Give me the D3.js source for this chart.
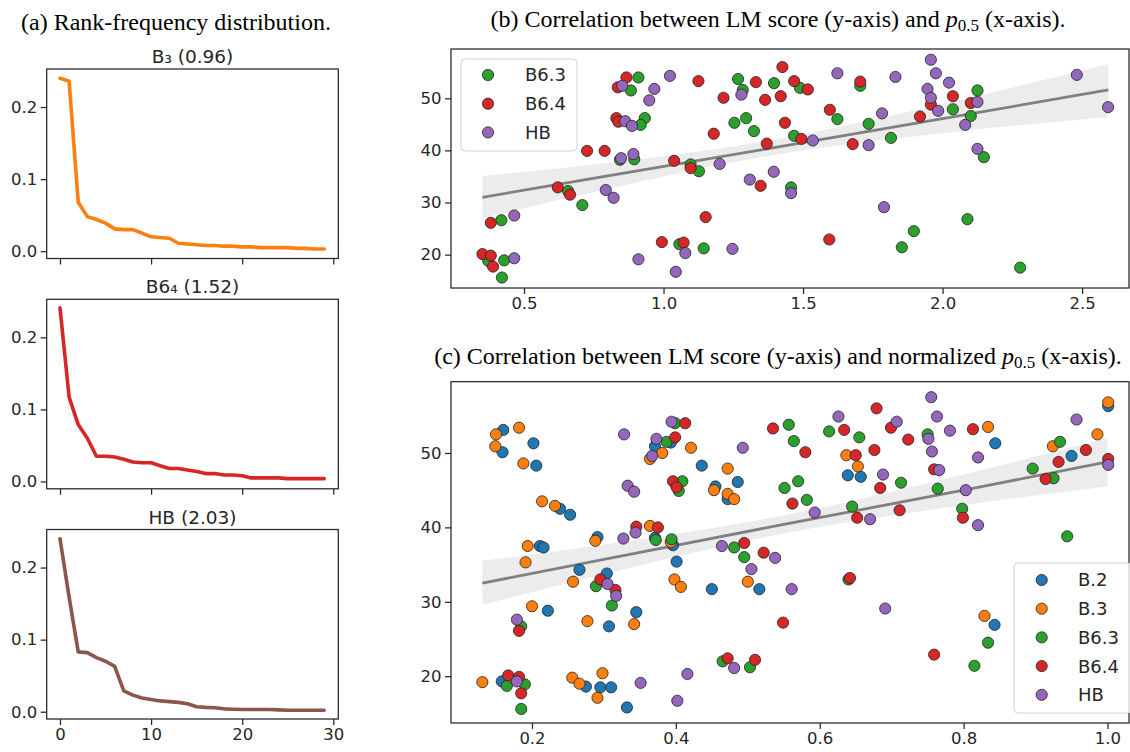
<!DOCTYPE html>
<html><head><meta charset="utf-8">
<script src="https://cdn.jsdelivr.net/npm/d3@7"></script>
<style>body{margin:0;background:#fff}</style>
</head><body>
<svg id="c" width="1130" height="752" xmlns="http://www.w3.org/2000/svg"></svg>
<script>
// ---------- DATA ----------
const ranks = [0,1,2,3,4,5,6,7,8,9,10,11,12,13,14,15,16,17,18,19,20,21,22,23,24,25,26,27,28,29];
const freqB3  = [0.240,0.236,0.068,0.048,0.044,0.039,0.031,0.030,0.030,0.025,0.020,0.019,0.018,0.011,0.010,0.009,0.008,0.008,0.007,0.007,0.006,0.006,0.005,0.005,0.005,0.005,0.004,0.004,0.003,0.003];
const freqB64 = [0.241,0.117,0.079,0.060,0.035,0.035,0.034,0.031,0.027,0.026,0.026,0.022,0.018,0.018,0.016,0.014,0.011,0.011,0.009,0.009,0.008,0.005,0.005,0.005,0.005,0.004,0.004,0.004,0.004,0.004];
const freqHB  = [0.240,0.159,0.083,0.082,0.075,0.070,0.063,0.029,0.023,0.019,0.017,0.015,0.014,0.013,0.011,0.007,0.006,0.0055,0.004,0.0035,0.003,0.003,0.003,0.003,0.0025,0.002,0.002,0.002,0.002,0.002];
const rankTitles = ["B\u2083 (0.96)", "B6\u2084 (1.52)", "HB (2.03)"];
const rankTicksX = [0,10,20,30];
const rankTicksY = [0.0,0.1,0.2];

// (b) LM score vs p0.5
const bB63 = [[0.372,18.8],[0.429,18.9],[0.421,15.6],[0.419,26.6],[0.658,32.2],[0.709,29.5],[0.844,38.2],[0.895,38.3],[0.883,51.5],[0.910,54.0],[0.933,46.2],[0.918,44.9],[1.057,22.0],[1.097,37.3],[1.127,36.0],[1.144,21.2],[1.267,53.7],[1.284,51.6],[1.254,45.3],[1.296,46.2],[1.324,43.7],[1.396,52.9],[1.468,42.8],[1.489,52.0],[1.457,32.9],[1.623,46.0],[1.735,45.1],[1.705,52.4],[1.815,42.4],[1.854,21.4],[1.897,24.5],[2.037,47.9],[2.125,51.5],[2.101,46.6],[2.148,38.7],[2.089,26.8],[2.278,17.5]];
const bB64 = [[0.351,20.1],[0.381,19.8],[0.389,17.7],[0.381,26.1],[0.621,32.9],[0.665,31.5],[0.726,39.9],[0.789,39.9],[0.831,46.2],[0.838,45.5],[0.836,52.1],[0.867,54.0],[1.038,38.0],[1.097,36.6],[0.994,22.4],[1.072,22.3],[1.151,27.2],[1.125,53.3],[1.180,43.2],[1.215,50.1],[1.331,53.1],[1.364,49.7],[1.348,33.2],[1.370,41.3],[1.426,56.0],[1.420,50.4],[1.435,45.3],[1.494,42.2],[1.468,53.3],[1.517,51.7],[1.596,47.8],[1.594,22.9],[1.678,41.2],[1.705,53.2],[1.919,46.5],[1.958,48.8],[2.037,50.4],[2.101,49.1]];
const bHB = [[0.465,27.5],[0.465,19.3],[0.852,52.4],[0.967,51.8],[0.949,49.6],[0.863,45.6],[0.887,44.7],[0.848,38.5],[0.892,39.3],[0.793,32.4],[0.821,30.9],[1.023,54.3],[0.910,19.1],[1.044,16.7],[1.078,20.3],[1.201,37.4],[1.247,21.1],[1.309,34.4],[1.279,50.7],[1.395,35.9],[1.535,41.9],[1.457,31.8],[1.623,54.8],[1.735,41.0],[1.783,47.1],[1.831,54.1],[1.790,29.1],[1.958,57.4],[1.976,54.8],[1.946,51.8],[1.958,50.1],[1.984,47.6],[2.023,53.0],[2.125,49.3],[2.081,44.9],[2.125,40.3],[2.481,54.5],[2.593,48.3]];
const bFitX  = [0.351, 0.8, 1.37, 2.0, 2.594];
const bFitY  = [31.0, 35.1, 40.3, 46.1, 51.6];
const bFitLo = [27.0, 32.6, 38.9, 43.3, 46.4];
const bFitHi = [35.1, 37.6, 41.8, 48.9, 56.6];
const bTicksX = [0.5,1.0,1.5,2.0,2.5];
const bTicksY = [20,30,40,50];
const bSeries = ["B6.3","B6.4","HB"];

// (c) LM score vs normalized p0.5
const cB2 = [[0.160,53.1],[0.159,50.1],[0.202,51.3],[0.206,48.3],[0.239,42.5],[0.253,41.7],[0.211,37.5],[0.216,37.3],[0.222,28.8],[0.266,34.3],[0.291,38.7],[0.304,33.8],[0.307,26.7],[0.345,28.6],[0.158,19.3],[0.275,18.6],[0.295,18.5],[0.310,18.5],[0.332,15.8],[0.371,50.9],[0.393,51.4],[0.371,38.6],[0.396,37.6],[0.401,35.4],[0.436,48.3],[0.455,45.5],[0.472,43.8],[0.486,46.1],[0.450,31.7],[0.516,31.7],[0.639,47.0],[0.657,46.8],[0.844,51.3],[0.950,49.6],[1.001,56.3],[0.843,26.9]];
const cB3 = [[0.150,52.5],[0.149,50.9],[0.182,53.4],[0.188,48.6],[0.214,43.5],[0.232,42.9],[0.194,37.5],[0.191,35.3],[0.200,29.4],[0.131,19.2],[0.256,19.8],[0.266,19.0],[0.257,32.7],[0.277,27.4],[0.288,38.2],[0.291,17.1],[0.298,20.4],[0.342,27.0],[0.364,40.2],[0.364,49.2],[0.381,50.0],[0.393,38.0],[0.398,33.0],[0.407,32.0],[0.421,50.7],[0.453,45.0],[0.472,47.9],[0.472,44.5],[0.481,43.8],[0.500,32.7],[0.637,49.7],[0.653,48.2],[0.834,53.5],[0.924,50.9],[0.986,52.5],[1.001,56.8],[0.829,28.1]];
const cB63 = [[0.165,18.7],[0.190,18.9],[0.185,15.6],[0.185,26.7],[0.289,32.1],[0.311,29.5],[0.372,38.3],[0.394,38.4],[0.387,51.5],[0.399,54.0],[0.409,46.2],[0.404,44.9],[0.465,22.0],[0.481,37.3],[0.495,36.0],[0.503,21.2],[0.551,45.3],[0.570,46.2],[0.582,43.7],[0.564,51.6],[0.557,53.8],[0.613,52.9],[0.655,52.1],[0.645,42.8],[0.640,33.0],[0.713,46.0],[0.750,52.5],[0.764,45.2],[0.798,42.5],[0.815,21.4],[0.834,24.5],[0.896,47.9],[0.925,46.6],[0.934,51.5],[0.944,38.8]];
const cB64 = [[0.167,20.1],[0.182,19.9],[0.185,17.7],[0.182,26.1],[0.295,33.0],[0.316,31.6],[0.345,40.1],[0.375,40.0],[0.396,46.2],[0.401,45.4],[0.399,52.1],[0.413,54.0],[0.472,22.4],[0.495,37.9],[0.510,22.2],[0.522,36.6],[0.535,53.3],[0.580,50.1],[0.562,43.2],[0.549,27.2],[0.634,53.1],[0.650,49.7],[0.676,50.4],[0.679,56.0],[0.684,45.3],[0.699,53.4],[0.723,51.8],[0.652,41.3],[0.711,42.3],[0.642,33.2],[0.759,47.8],[0.799,41.3],[0.813,53.2],[0.759,22.9],[0.914,46.5],[0.932,48.8],[0.970,50.4],[1.001,49.2]];
const cHB = [[0.179,27.6],[0.179,19.3],[0.328,52.5],[0.333,45.6],[0.342,44.8],[0.327,38.5],[0.344,39.3],[0.305,32.4],[0.317,30.8],[0.351,19.1],[0.373,51.9],[0.367,49.6],[0.394,54.2],[0.402,16.7],[0.416,20.3],[0.464,37.5],[0.481,21.1],[0.493,50.7],[0.505,34.4],[0.538,35.9],[0.561,31.7],[0.593,42.0],[0.626,54.9],[0.707,54.2],[0.688,47.1],[0.670,41.1],[0.691,29.1],[0.755,57.5],[0.763,54.9],[0.751,51.9],[0.756,50.2],[0.766,47.7],[0.781,53.0],[0.820,49.4],[0.803,45.0],[0.820,40.3],[0.957,54.5],[1.001,48.4]];
const cFitX  = [0.131, 0.3, 0.55, 0.8, 1.0];
const cFitY  = [32.5, 35.7, 40.4, 45.0, 48.8];
const cFitLo = [29.6, 33.7, 39.2, 43.0, 45.5];
const cFitHi = [35.5, 37.7, 41.6, 47.1, 52.0];
const cTicksX = [0.2,0.4,0.6,0.8,1.0];
const cTicksY = [20,30,40,50];
const cSeries = ["B.2","B.3","B6.3","B6.4","HB"];

const colors = {"B.2":"#1f77b4","B.3":"#ff7f0e","B6.3":"#2ca02c","B6.4":"#d62728","HB":"#9467bd"};
const rankColors = ["#ff7f0e","#d62728","#8c564b"];

// ---------- DRAWING ----------
const svg = d3.select("#c");
const INK = "#262626";
const TICKFONT = "DejaVu Sans";
const TICKSIZE = 16.5;
const TITLESIZE = 24;

function drawAxes(g, x, y, xt, yt, xfmt, yfmt, showX) {
  const [x0,x1] = x.range(), [y1,y0] = y.range();
  const ax = g.append("g").attr("transform",`translate(0,${y1})`)
    .call(d3.axisBottom(x).tickValues(xt).tickSize(6).tickPadding(3.5).tickSizeOuter(0).tickFormat(showX? xfmt : ""));
  const ay = g.append("g").attr("transform",`translate(${x0},0)`)
    .call(d3.axisLeft(y).tickValues(yt).tickSize(6).tickPadding(3.5).tickSizeOuter(0).tickFormat(yfmt));
  [ax,ay].forEach(a=>{
    a.select(".domain").remove();
    a.selectAll("line").attr("stroke",INK).attr("stroke-width",1.25);
    a.selectAll("text").attr("fill",INK).attr("font-family",TICKFONT).attr("font-size",TICKSIZE);
  });
  g.append("rect").attr("x",x0).attr("y",y0).attr("width",x1-x0).attr("height",y1-y0)
    .attr("fill","none").attr("stroke",INK).attr("stroke-width",1.25);
}

// (a) rank-frequency
svg.append("text").attr("x",176).attr("y",30).attr("text-anchor","middle")
  .attr("font-family","Liberation Serif").attr("font-size",TITLESIZE).attr("fill","#000")
  .text("(a) Rank-frequency distribution.");

const rankData = [freqB3, freqB64, freqHB];
const tops = [69, 299.3, 529.5];
rankData.forEach((vals,i)=>{
  const g = svg.append("g");
  const x = d3.scaleLinear().domain([-1.46,30.55]).range([46.7,338.3]);
  const y = d3.scaleLinear().domain([-0.0101,0.2528]).range([tops[i]+189.5, tops[i]]);
  drawAxes(g, x, y, rankTicksX, rankTicksY, d3.format("d"), d3.format(".1f"), i===2);
  g.append("path").datum(ranks.map((r,j)=>[r, vals[j]]))
    .attr("d", d3.line().x(d=>x(d[0])).y(d=>y(d[1])))
    .attr("fill","none").attr("stroke",rankColors[i]).attr("stroke-width",3.6)
    .attr("stroke-linejoin","round").attr("stroke-linecap","round");
  g.append("text").attr("x",192.5).attr("y",tops[i]-6).attr("text-anchor","middle")
    .attr("font-family",TICKFONT).attr("font-size",18.5).attr("fill",INK).text(rankTitles[i]);
});

function title(yBase, prefix) {
  const t = svg.append("text").attr("x",778).attr("y",yBase).attr("text-anchor","middle")
    .attr("font-family","Liberation Serif").attr("font-size",TITLESIZE).attr("fill","#000");
  t.append("tspan").text(prefix);
  t.append("tspan").attr("font-style","italic").text("p");
  t.append("tspan").attr("font-size",17).attr("dy",4).text("0.5");
  t.append("tspan").attr("dy",-4).text(" (x-axis).");
}

function scatterPanel(x, y, xt, yt, xfmt, seriesNames, seriesData, fitX, fitY, fitLo, fitHi, legend) {
  const g = svg.append("g");
  const [x0,x1] = x.range(), [y1,y0] = y.range();
  const clipId = "clip"+Math.round(y0);
  svg.append("clipPath").attr("id",clipId).append("rect").attr("x",x0).attr("y",y0).attr("width",x1-x0).attr("height",y1-y0);
  const pg = g.append("g").attr("clip-path",`url(#${clipId})`);
  const band = fitX.map((v,i)=>({x:v, lo:fitLo[i], hi:fitHi[i]}));
  pg.append("path").datum(band)
    .attr("d", d3.area().curve(d3.curveMonotoneX).x(d=>x(d.x)).y0(d=>y(d.lo)).y1(d=>y(d.hi)))
    .attr("fill","#808080").attr("fill-opacity",0.15);
  pg.append("path").datum(fitX.map((v,i)=>[v,fitY[i]]))
    .attr("d", d3.line().x(d=>x(d[0])).y(d=>y(d[1])))
    .attr("fill","none").attr("stroke","#808080").attr("stroke-width",2.8);
  seriesNames.forEach((s,k)=>{
    pg.selectAll(null).data(seriesData[k]).enter().append("circle")
      .attr("cx",d=>x(d[0])).attr("cy",d=>y(d[1])).attr("r",5.6)
      .attr("fill",colors[s]).attr("stroke","#222").attr("stroke-width",0.8);
  });
  drawAxes(g, x, y, xt, yt, xfmt, d3.format("d"), true);
  // legend
  const L = legend;
  g.append("rect").attr("x",L.x).attr("y",L.y).attr("width",L.w).attr("height",L.h).attr("rx",4)
    .attr("fill","#fff").attr("fill-opacity",0.8).attr("stroke","#d0d0d0").attr("stroke-width",1);
  seriesNames.forEach((s,k)=>{
    const cy = L.y + L.first + k*L.step;
    g.append("circle").attr("cx",L.x+L.mx).attr("cy",cy).attr("r",5.6)
      .attr("fill",colors[s]).attr("stroke","#222").attr("stroke-width",0.8);
    g.append("text").attr("x",L.x+L.tx).attr("y",cy).attr("dy","0.36em")
      .attr("font-family",TICKFONT).attr("font-size",18).attr("fill",INK).text(s);
  });
}

title(27, "(b) Correlation between LM score (y-axis) and ");
scatterPanel(
  d3.scaleLinear().domain([0.2384,2.668]).range([451,1129]),
  d3.scaleLinear().domain([13.59,59.46]).range([288,49]),
  bTicksX, bTicksY, d3.format(".1f"), bSeries, [bB63,bB64,bHB],
  bFitX, bFitY, bFitLo, bFitHi,
  {x:461, y:59, w:116, h:92, first:16, step:28.7, mx:27, tx:64}
);

title(364, "(c) Correlation between LM score (y-axis) and normalized ");
scatterPanel(
  d3.scaleLinear().domain([0.0874,1.0299]).range([451,1129]),
  d3.scaleLinear().domain([13.71,59.58]).range([723,381.7]),
  cTicksX, cTicksY, d3.format(".1f"), cSeries, [cB2,cB3,cB63,cB64,cHB],
  cFitX, cFitY, cFitLo, cFitHi,
  {x:1014, y:563, w:118, h:150, first:17, step:28.7, mx:27.7, tx:64}
);
</script>
</body></html>
